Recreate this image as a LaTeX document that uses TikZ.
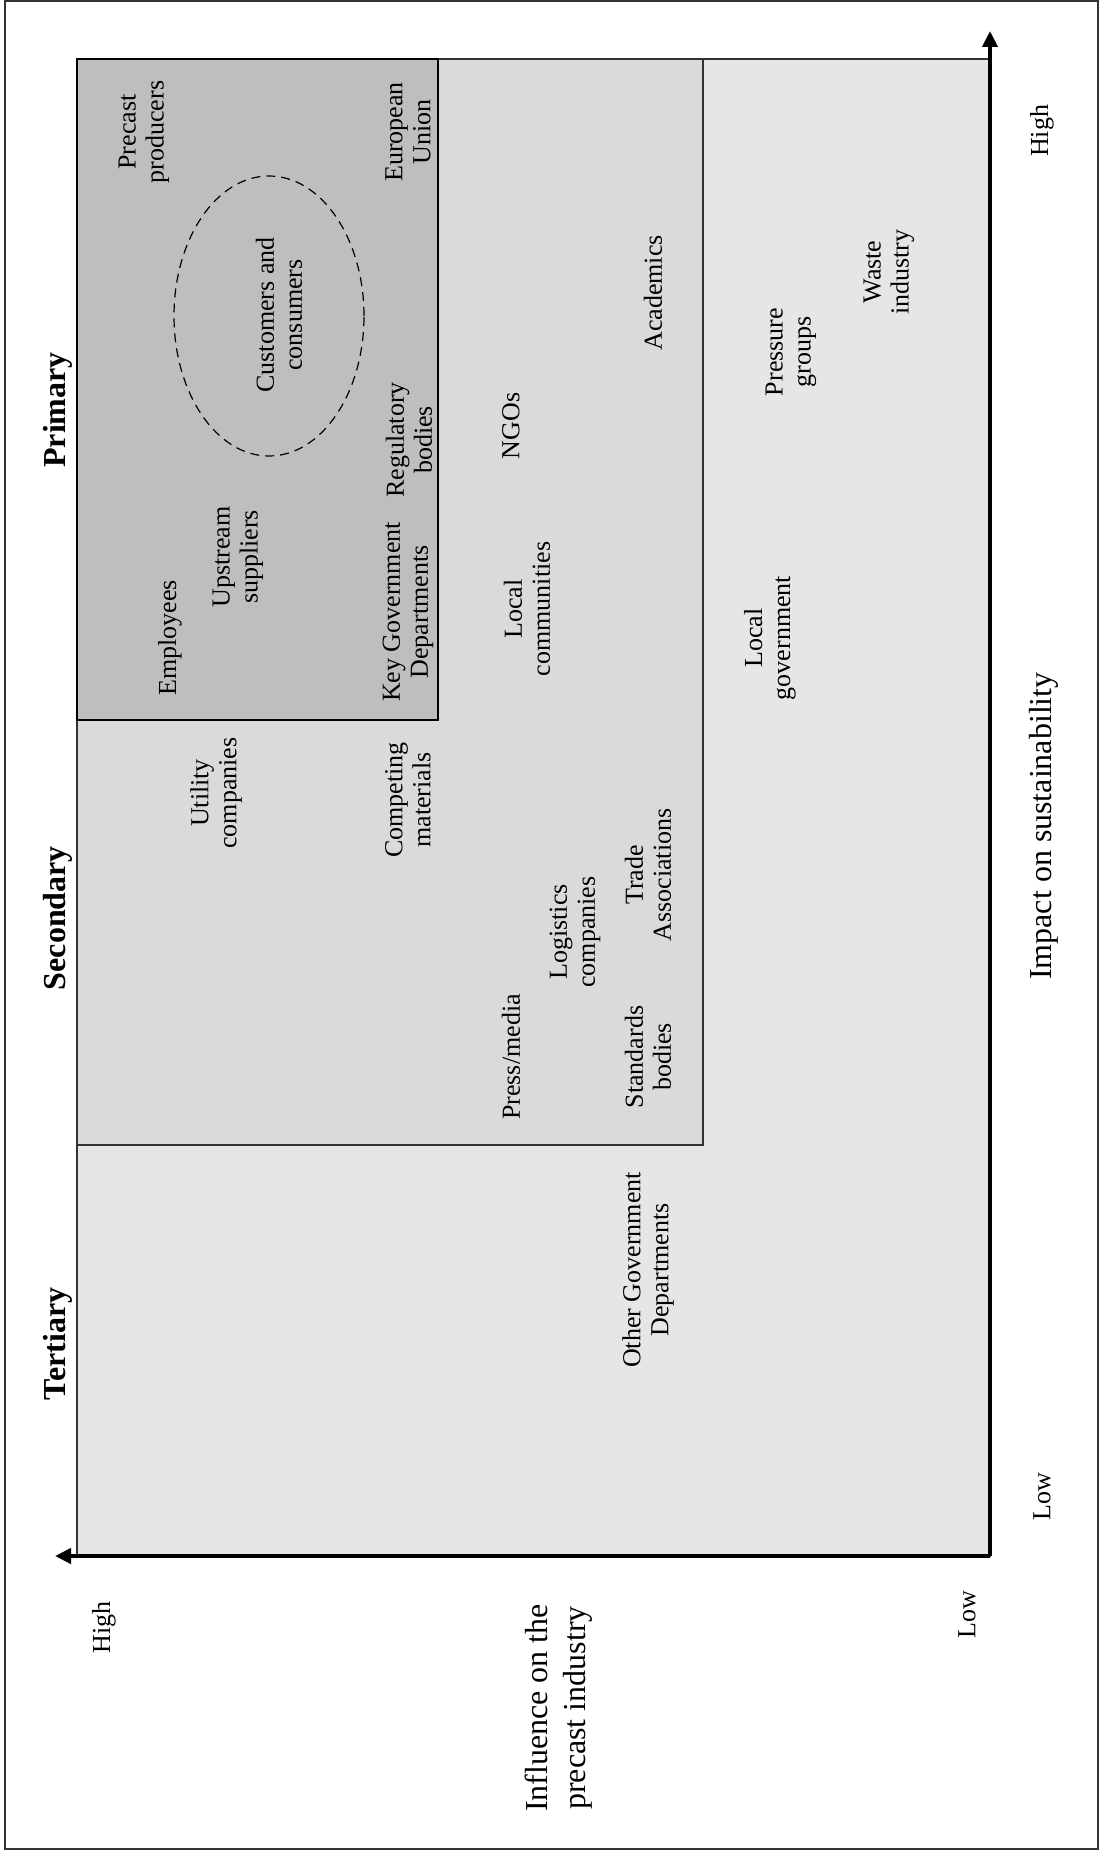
\documentclass[tikz,border=0pt]{standalone}
\usepackage{fontspec}
\setmainfont{Liberation Serif}
\usetikzlibrary{arrows.meta,shapes.geometric}
\definecolor{zoneA}{RGB}{190,190,192}
\definecolor{zoneB}{RGB}{218,217,219}
\definecolor{zoneC}{RGB}{230,230,230}
\begin{document}
\begin{tikzpicture}[x=0.5pt,y=-0.5pt,
  lbl/.style={rotate=90, align=center, inner sep=0pt, font=\fontsize{13}{14}\selectfont},
  tier/.style={rotate=90, inner sep=0pt, font=\fontsize{16}{18}\selectfont\bfseries},
  axtitle/.style={rotate=90, align=center, inner sep=0pt, font=\fontsize{16}{19}\selectfont},
  zone/.style={draw=black!80, line width=0.7pt},
  axisline/.style={line width=2pt, -{Triangle[length=8pt,width=7.5pt]}}]
\useasboundingbox (0,0) rectangle (1102,1851);
% outer frame
\draw[line width=0.7pt, black!80] (5,1) rectangle (1098,1849);

% corner points of the three stakeholder zones
\coordinate (tl) at (77,59);
\coordinate (primBR) at (438,720);
\coordinate (secBR) at (703,1145);
\coordinate (origin) at (990,1556);
\coordinate (ytip) at (990,31);
\coordinate (xtip) at (55,1556);

\filldraw[zone, fill=zoneC] (tl) rectangle (origin);
\filldraw[zone, fill=zoneB] (tl) rectangle (secBR);
\filldraw[zone, fill=zoneA, draw=black, line width=0.9pt] (tl) rectangle (primBR);

% axes
\draw[axisline] (origin) -- (ytip);
\draw[axisline] (origin) -- (xtip);

% tier headings
\node[tier] (primary) at (58,410) {Primary};
\node[tier] (secondary) at (58,918) {Secondary};
\node[tier] (tertiary) at (58,1344) {Tertiary};

% primary stakeholders
\node[draw, dashed, dash pattern=on 4.5pt off 3pt, line width=0.6pt, ellipse,
      minimum width=95pt, minimum height=140pt, inner sep=0pt] (custring) at (269,316) {};
\node[lbl] (cust) at (279,315) {Customers and\\consumers};
\node[lbl] (precast) at (144,132) {Precast\\producers};
\node[lbl] (eu) at (408,132) {European\\Union};
\node[lbl] (regul) at (409,440) {Regulatory\\bodies};
\node[lbl] (upstream) at (238,557) {Upstream\\suppliers};
\node[lbl] (employees) at (170,638) {Employees};
\node[lbl] (keygov) at (408,612) {Key Government\\Departments};

% secondary stakeholders
\node[lbl] (academics) at (653,293) {Academics};
\node[lbl] (ngos) at (511,426) {NGOs};
\node[lbl] (localcomm) at (527,609) {Local\\communities};
\node[lbl] (utility) at (216,793) {Utility\\companies};
\node[lbl] (competing) at (408,800) {Competing\\materials};
\node[lbl] (logistics) at (575,932) {Logistics\\companies};
\node[lbl] (trade) at (648,875) {Trade\\Associations};
\node[lbl] (press) at (511,1057) {Press/media};
\node[lbl] (standards) at (648,1057) {Standards\\bodies};

% tertiary stakeholders
\node[lbl] (waste) at (889,272) {Waste\\industry};
\node[lbl] (pressure) at (791,352) {Pressure\\groups};
\node[lbl] (localgov) at (770,638) {Local\\government};
\node[lbl] (othergov) at (648,1270) {Other Government\\Departments};

% axis labels
\node[lbl] (highR) at (1042,131) {High};
\node[lbl] (lowR) at (1042,1497) {Low};
\node[axtitle] (impact) at (1044,826) {Impact on sustainability};
\node[lbl] (highL) at (104,1627) {High};
\node[lbl] (lowL) at (967,1615) {Low};
\node[axtitle] (influence) at (559,1708) {Influence on the\\precast industry};
\end{tikzpicture}
\end{document}
